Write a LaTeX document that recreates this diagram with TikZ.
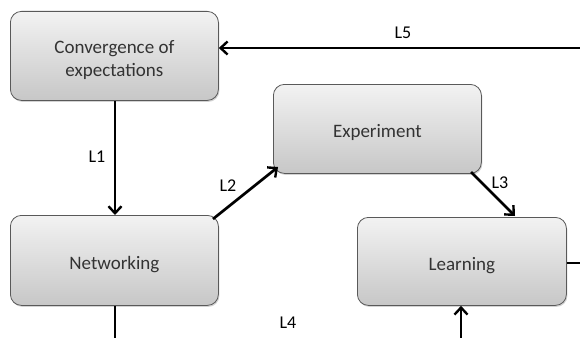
\documentclass[tikz,border=0pt]{standalone}
\usepackage{fontspec}
\setmainfont{Carlito}
\usetikzlibrary{arrows.meta,shadows}
\definecolor{txt}{HTML}{333333}
\tikzset{
  box/.style={draw=black!65, line width=0.8pt, rounded corners=11pt, top color=black!5, bottom color=black!22,
    anchor=north west,
    drop shadow={shadow xshift=1pt, shadow yshift=-1.5pt, opacity=0.35}},
  boxtext/.style={text=txt, font=\fontsize{19}{23}\selectfont, align=center, yshift=-4pt},
  conn/.style={line width=2.7pt, -{Straight Barb[length=7pt,width=13pt,line width=2.4pt]}},
  plain/.style={line width=2.7pt},
  lab/.style={font=\fontsize{18}{21}\selectfont, text=black}
}
\begin{document}
\begin{tikzpicture}[x=1pt,y=-1pt]
\useasboundingbox (0,0) rectangle (580,337);
\node[box, minimum width=208pt, minimum height=89pt, label={[boxtext]center:Convergence of\\expectations}] (conv) at (10,11) {};
\node[box, minimum width=208pt, minimum height=89pt, label={[boxtext]center:Experiment}] (exp) at (273,84) {};
\node[box, minimum width=208pt, minimum height=90pt, label={[boxtext]center:Networking}] (net) at (10,215) {};
\node[box, minimum width=209pt, minimum height=88pt, label={[boxtext]center:Learning}] (learn) at (357,217) {};
\coordinate (l5start) at (585,48);
\coordinate (netdown) at (115,340);
\coordinate (learnright) at (585,263);
\coordinate (learnup) at (461,340);
\draw[conn] (l5start) -- (conv.east |- l5start);
\draw[conn] (conv.south -| 115,0) -- (net.north -| 115,0);
\draw[conn] (213,219) -- (278,167);
\draw[conn] (471,172) -- (515,216);
\draw[plain] (learn.east |- learnright) -- (learnright);
\draw[plain] (net.south -| netdown) -- (netdown);
\draw[conn] (learnup) -- (learn.south -| learnup);
\node[lab] (t5) at (403,33) {L5};
\node[lab] (t1) at (97,157) {L1};
\node[lab] (t2) at (228,186) {L2};
\node[lab] (t3) at (500,183) {L3};
\node[lab] (t4) at (288,323) {L4};
\end{tikzpicture}
\end{document}
